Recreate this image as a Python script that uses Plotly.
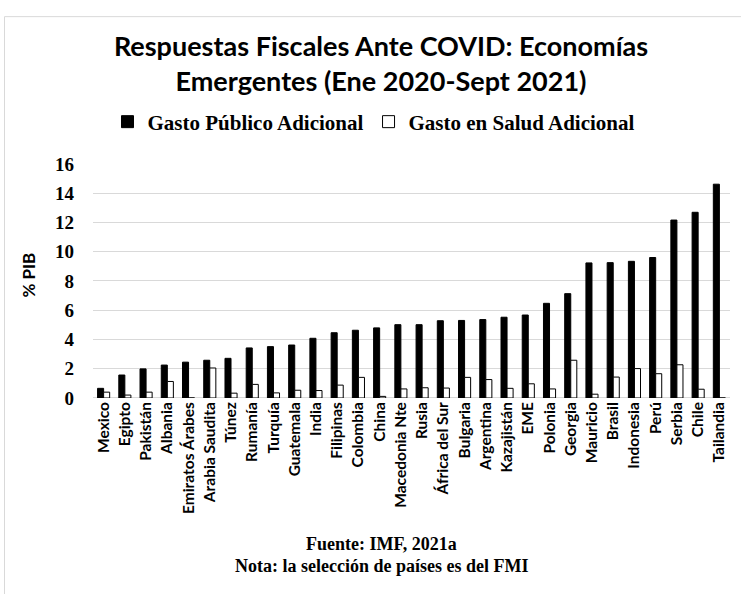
import plotly.graph_objects as go

# Additional fiscal spending, % of GDP, emerging economies
paises = ["Mexico", "Egipto", "Pakistán", "Albania", "Emiratos Árabes", "Arabia Saudita",
          "Túnez", "Rumanía", "Turquía", "Guatemala", "India", "Filipinas", "Colombia",
          "China", "Macedonia Nte", "Rusia", "África del Sur", "Bulgaria", "Argentina",
          "Kazajistán", "EME", "Polonia", "Georgia", "Mauricio", "Brasil", "Indonesia",
          "Perú", "Serbia", "Chile", "Tailandia"]
gasto_publico = [0.66, 1.57, 1.99, 2.25, 2.45, 2.58, 2.71, 3.42, 3.51, 3.62, 4.08, 4.46,
                 4.63, 4.79, 5.01, 5.01, 5.28, 5.30, 5.36, 5.52, 5.67, 6.47, 7.13, 9.23,
                 9.25, 9.34, 9.60, 12.16, 12.69, 14.61]
gasto_salud = [0.40, 0.20, 0.40, 1.13, 0.0, 2.05, 0.33, 0.93, 0.35, 0.53, 0.51, 0.88,
               1.41, 0.11, 0.62, 0.70, 0.68, 1.41, 1.26, 0.66, 0.97, 0.62, 2.58, 0.26,
               1.43, 2.01, 1.66, 2.27, 0.60, 0.0]
y_ticks = [0, 2, 4, 6, 8, 10, 12, 14, 16]

W, H = 741, 594
L, R, T, B = 93, 11, 157, 196

sans = "Lato"
serif = "Liberation Serif"

fig = go.Figure()
fig.add_trace(go.Bar(
    x=paises, y=gasto_publico, name="<b>Gasto Público Adicional</b>",
    marker=dict(color="black", line=dict(color="black", width=1)),
))
fig.add_trace(go.Bar(
    x=paises, y=gasto_salud, name="<b>Gasto en Salud Adicional</b>",
    marker=dict(color="white", line=dict(color="black", width=1)),
))

pw = W - L - R
ph = H - T - B


def px_x(x):
    return (x - L) / pw


def px_y(y):
    return (H - B - y) / ph


# light chart frame
fig.add_shape(type="rect", xref="paper", yref="paper",
              x0=px_x(4.5), x1=px_x(780), y0=px_y(640), y1=px_y(5.5),
              line=dict(color="#d9d9d9", width=1), fillcolor="rgba(0,0,0,0)", layer="below")

fig.add_annotation(xref="paper", yref="paper", x=px_x(381), y=px_y(548),
                   xanchor="center", yanchor="middle",
                   text="<b>Fuente: IMF, 2021a</b>", showarrow=False,
                   font=dict(family=serif, size=18, color="black"))
fig.add_annotation(xref="paper", yref="paper", x=px_x(381), y=px_y(571),
                   xanchor="center", yanchor="middle",
                   text="<b>Nota: la selección de países es del FMI</b>", showarrow=False,
                   font=dict(family=serif, size=18, color="black"))
fig.add_annotation(xref="paper", yref="paper", x=px_x(29), y=px_y(272),
                   xanchor="center", yanchor="middle",
                   text="<b>% PIB</b>", textangle=-90, showarrow=False,
                   font=dict(family=sans, size=17, color="black"))

fig.update_layout(
    width=W, height=H,
    margin=dict(l=L, r=R, t=T, b=B),
    paper_bgcolor="white", plot_bgcolor="white",
    barmode="group", bargap=0.43, bargroupgap=0.0,
    title=dict(text="<b>Respuestas Fiscales Ante COVID: Economías<br>Emergentes (Ene 2020-Sept 2021)</b>",
               x=381 / W, xanchor="center", xref="container",
               y=1 - 56 / H, yanchor="middle", yref="container",
               font=dict(family=sans, size=27, color="black")),
    legend=dict(orientation="h", xref="container", yref="container",
                x=374 / W, xanchor="center", y=1 - 122 / H, yanchor="middle",
                font=dict(family=serif, size=21, color="black"),
                itemwidth=30, traceorder="normal"),
    showlegend=True,
    xaxis=dict(tickangle=-90, showgrid=False, showline=False, ticks="",
               tickfont=dict(family=sans, size=15.5, color="black", weight="bold")),
    yaxis=dict(range=[0, 16], tickvals=y_ticks, ticktext=[f"<b>{v}</b>" for v in y_ticks],
               showgrid=True, gridcolor="#d9d9d9",
               gridwidth=1, zeroline=True, zerolinecolor="#d9d9d9", zerolinewidth=1,
               showline=False, ticks="", ticklabelstandoff=18,
               tickfont=dict(family=serif, size=19, color="black")),
)

fig.write_html("out.html")
